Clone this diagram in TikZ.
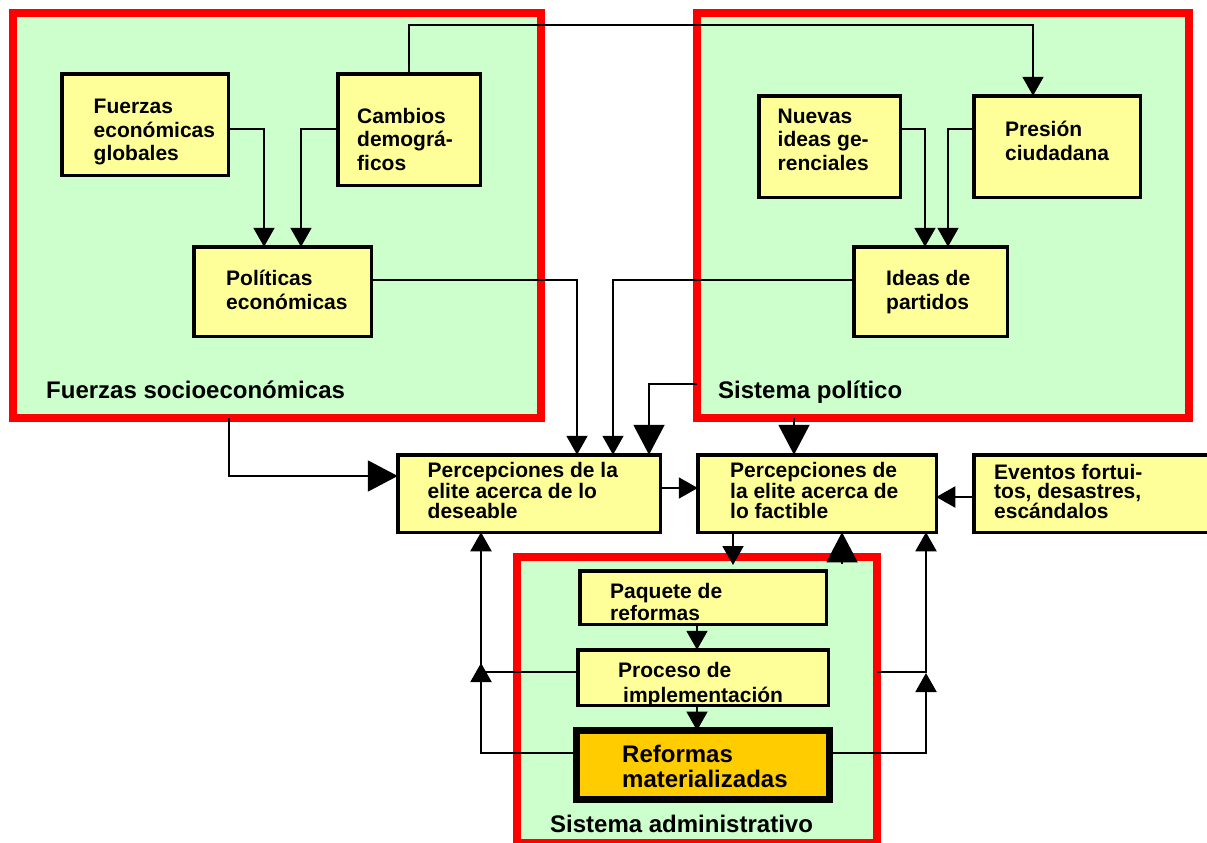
\documentclass[tikz,border=0pt]{standalone}
\usepackage{fontspec}
\setmainfont{Liberation Sans}
\usetikzlibrary{arrows.meta}
\definecolor{grn}{HTML}{CCFFCC}
\definecolor{ylw}{HTML}{FFFF99}
\definecolor{org}{HTML}{FFCC00}
\definecolor{rd}{HTML}{FF0000}
\newcommand{\mkbox}[6][box]{\node[#1, minimum width={#5-#3-3.5}, minimum height={#6-#4-3.5}] (#2) at ({(#3+#5)/2},{(#4+#6)/2}) {};}
\begin{document}
\begin{tikzpicture}[x=1pt,y=-1pt,
  region/.style={draw=rd, fill=grn, line width=8pt, inner sep=0, outer sep=0},
  box/.style={draw=black, fill=ylw, line width=3.5pt, inner sep=0, outer sep=0, rectangle},
  txt/.style={font=\fontsize{21}{23.5}\selectfont\bfseries, align=left, inner sep=0, anchor=base west},
  ptxt/.style={txt, font=\fontsize{21}{19.5}\selectfont\bfseries},
  lbl/.style={txt, font=\fontsize{24}{26}\selectfont\bfseries},
  conn/.style={draw=black, line width=2pt},
  sarr/.style={-{Triangle[length=19pt,width=21pt]}},
  barr/.style={-{Triangle[length=30pt,width=31pt]}},
]
\useasboundingbox (0,0) rectangle (1207,843);
\clip (0,0) rectangle (1207,843);
% regions
\node[region, minimum width=528, minimum height=405] (fs) at (277,215.5) {};
\node[region, minimum width=492, minimum height=404.5] (sp) at (943,215.75) {};
\node[region, minimum width=360, minimum height=286] (sa) at (697,700) {};
\node[lbl] (fsl) at (46,398) {Fuerzas socioeconómicas};
\node[lbl] (spl) at (718,398) {Sistema político};
\node[lbl] (sal) at (550,832) {Sistema administrativo};
% free ends
\coordinate (t13) at (733,565);
\coordinate (s14) at (842,564);
\coordinate (t18) at (481,663);
\coordinate (t20) at (926,673);
% boxes (placeholders first for anchors)
\mkbox{fe}{60}{72}{230}{177}
\mkbox{cd}{336}{72}{482}{187}
\mkbox{pe}{192}{245}{373}{338}
\mkbox{ng}{757}{94}{902}{199}
\mkbox{pc}{972}{94}{1142}{199}
\mkbox{ip}{852}{245}{1009}{338}
\mkbox{pd}{396}{453}{662}{534}
\mkbox{pf}{696}{453}{938}{534}
\mkbox{ev}{972}{453}{1218}{534}
\mkbox{pq}{578}{569}{828}{626}
\mkbox{pi}{576}{648}{830}{707}
\node[box, fill=org, line width=7pt, minimum width=253, minimum height=69] (rm) at (703,765) {};
% connectors
\draw[conn, sarr] (fe.east |- 0,129) -| (264,0 |- pe.north);
\draw[conn, sarr] (cd.west |- 0,129) -| (301,0 |- pe.north);
\draw[conn, sarr] (409,0 |- cd.north) |- (1033,25) -- (1033,0 |- pc.north);
\draw[conn, sarr] (ng.east |- 0,129) -| (925,0 |- ip.north);
\draw[conn, sarr] (pc.west |- 0,129) -| (948,0 |- ip.north);
\draw[conn, sarr] (pe.east |- 0,280) -| (577,0 |- pd.north);
\draw[conn, sarr] (ip.west |- 0,280) -| (613,0 |- pd.north);
\draw[conn, barr] (sp.west |- 0,384) -| (649,0 |- pd.north);
\draw[conn, barr] (229,0 |- fs.south) |- (pd.west |- 0,476);
\draw[conn, barr] (794,0 |- sp.south) -- (794,0 |- pf.north);
\draw[conn, sarr] (pd.east |- 0,488) -- (pf.west |- 0,488);
\draw[conn, sarr] (ev.west |- 0,497) -- (pf.east |- 0,497);
\draw[conn, sarr] (733,0 |- pf.south) -- (t13);
\draw[conn, barr] (s14) -- (842,0 |- pf.south);
\draw[conn, sarr] (697,0 |- pq.south) -- (697,0 |- pi.north);
\draw[conn, sarr] (697,0 |- pi.south) -- (697,0 |- rm.north);
\draw[conn, sarr] (pi.west |- 0,672) -| (481,0 |- pd.south);
\draw[conn, sarr] (rm.west |- 0,753) -| (t18);
\draw[conn, sarr] (sa.east |- 0,672) -| (926,0 |- pf.south);
\draw[conn, sarr] (rm.east |- 0,753) -| (t20);
% redraw boxes on top
\mkbox{fe}{60}{72}{230}{177}
\mkbox{cd}{336}{72}{482}{187}
\mkbox{pe}{192}{245}{373}{338}
\mkbox{ng}{757}{94}{902}{199}
\mkbox{pc}{972}{94}{1142}{199}
\mkbox{ip}{852}{245}{1009}{338}
\mkbox{pd}{396}{453}{662}{534}
\mkbox{pf}{696}{453}{938}{534}
\mkbox{ev}{972}{453}{1218}{534}
\mkbox{pq}{578}{569}{828}{626}
\mkbox{pi}{576}{648}{830}{707}
\node[box, fill=org, line width=7pt, minimum width=253, minimum height=69] (rm) at (703,765) {};
% texts (anchor = baseline of last line)
\node[txt] (fet) at (93.5,160.5) {Fuerzas\\económicas\\globales};
\node[txt] (cdt) at (357,170) {Cambios\\demográ-\\ficos};
\node[txt] (pet) at (226,309) {Políticas\\económicas};
\node[txt] (ngt) at (777.5,170) {Nuevas\\ideas ge-\\renciales};
\node[txt] (pct) at (1005,160) {Presión\\ciudadana};
\node[txt] (ipt) at (886,309) {Ideas de\\partidos};
\node[ptxt] (pdt) at (427.5,518) {Percepciones de la\\elite acerca de lo\\deseable};
\node[ptxt] (pft) at (730,518) {Percepciones de\\la elite acerca de\\lo factible};
\node[ptxt] (evt) at (994,518) {Eventos fortui-\\tos, desastres,\\escándalos};
\node[txt, font=\fontsize{21}{22}\selectfont\bfseries] (pqt) at (610,620) {Paquete de\\reformas};
\node[txt, font=\fontsize{21}{25}\selectfont\bfseries] (pit) at (618,702) {Proceso de\\\hspace*{5pt}implementación};
\node[lbl, font=\fontsize{24}{25}\selectfont\bfseries] (rmt) at (622,787) {Reformas\\materializadas};
\end{tikzpicture}
\end{document}
